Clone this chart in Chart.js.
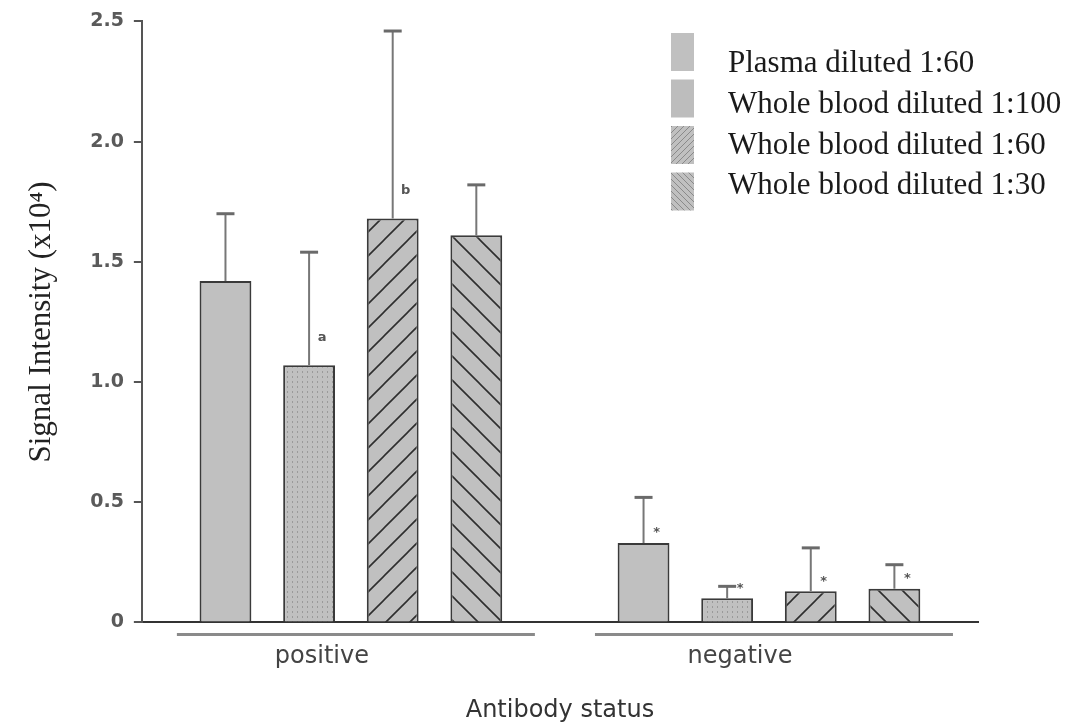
<!DOCTYPE html>
<html>
<head>
<meta charset="utf-8">
<title>Signal intensity by antibody status</title>
<script src="https://cdn.jsdelivr.net/npm/chart.js@4.4.1/dist/chart.umd.min.js"></script>
<style>
  html, body { margin: 0; padding: 0; background: #fff; }
  #wrap { width: 1068px; height: 726px; }
</style>
</head>
<body>
<div id="wrap"><canvas id="myChart" width="1068" height="726"></canvas></div>
<script>
const groups = ['positive', 'negative'];
const seriesNames = [
  'Plasma diluted 1:60',
  'Whole blood diluted 1:100',
  'Whole blood diluted 1:60',
  'Whole blood diluted 1:30'
];

// means and SD (x10^4)
const plasma60 = [1.42, 0.33];
const blood100 = [1.07, 0.10];
const blood60 = [1.68, 0.13];
const blood30 = [1.61, 0.14];

const plasma60Sd = [0.28, 0.19];
const blood100Sd = [0.47, 0.05];
const blood60Sd = [0.78, 0.18];
const blood30Sd = [0.21, 0.10];

// significance letters over the bars
const plasma60Marks = ['', '*'];
const blood100Marks = ['a', '*'];
const blood60Marks = ['b', '*'];
const blood30Marks = ['', '*'];

const yTicks = ['0', '0.5', '1.0', '1.5', '2.0', '2.5'];

function makePattern(kind, size, ink, lw) {
  const c = document.createElement('canvas');
  c.width = size;
  c.height = size;
  const g = c.getContext('2d');
  g.fillStyle = '#c0c0c0';
  g.fillRect(0, 0, size, size);
  g.strokeStyle = ink;
  g.fillStyle = ink;
  g.lineWidth = lw;
  if (kind === 'dots') {
    g.fillRect(2, 1, 1, 2);
  } else if (kind === 'fwd') {
    g.beginPath();
    g.moveTo(0, size); g.lineTo(size, 0);
    g.moveTo(-size / 2, size / 2); g.lineTo(size / 2, -size / 2);
    g.moveTo(size / 2, size * 1.5); g.lineTo(size * 1.5, size / 2);
    g.stroke();
  } else if (kind === 'back') {
    g.beginPath();
    g.moveTo(0, 0); g.lineTo(size, size);
    g.moveTo(-size / 2, size / 2); g.lineTo(size / 2, size * 1.5);
    g.moveTo(size / 2, -size / 2); g.lineTo(size * 1.5, size / 2);
    g.stroke();
  }
  return g.createPattern(c, 'repeat');
}

const solid = '#c0c0c0';
const dotted = makePattern('dots', 5, '#9a9a9a', 1);
const fwd = makePattern('fwd', 24, '#2e2e2e', 1.6);
const back = makePattern('back', 24, '#2e2e2e', 1.6);

const data = {
  labels: groups,
  datasets: [
    { label: seriesNames[0], data: plasma60, sd: plasma60Sd, marks: plasma60Marks,
      backgroundColor: solid, swatch: solid },
    { label: seriesNames[1], data: blood100, sd: blood100Sd, marks: blood100Marks,
      backgroundColor: dotted, swatch: '#bdbdbd' },
    { label: seriesNames[2], data: blood60, sd: blood60Sd, marks: blood60Marks,
      backgroundColor: fwd, swatch: makePattern('fwd', 6, '#8a8a8a', 1) },
    { label: seriesNames[3], data: blood30, sd: blood30Sd, marks: blood30Marks,
      backgroundColor: back, swatch: makePattern('back', 6, '#8a8a8a', 1) }
  ]
};
data.datasets.forEach(function(ds) {
  ds.borderColor = '#3a3a3a';
  ds.borderWidth = 2;
});

// upward SD whiskers with caps
const errorBars = {
  id: 'errorBars',
  afterDatasetsDraw(chart) {
    const ctx = chart.ctx;
    const y = chart.scales.y;
    ctx.save();
    chart.data.datasets.forEach(function(ds, i) {
      chart.getDatasetMeta(i).data.forEach(function(bar, j) {
        const top = y.getPixelForValue(ds.data[j] + ds.sd[j]);
        ctx.strokeStyle = '#777';
        ctx.lineWidth = 2;
        ctx.beginPath();
        ctx.moveTo(bar.x, bar.y);
        ctx.lineTo(bar.x, top);
        ctx.stroke();
        ctx.lineWidth = 3;
        ctx.strokeStyle = '#6a6a6a';
        ctx.beginPath();
        ctx.moveTo(bar.x - 9, top);
        ctx.lineTo(bar.x + 9, top);
        ctx.stroke();
        const m = ds.marks[j];
        if (m) {
          ctx.fillStyle = '#555';
          ctx.font = 'bold 13px "DejaVu Sans"';
          ctx.textAlign = 'center';
          ctx.textBaseline = 'middle';
          ctx.fillText(m, bar.x + 13, bar.y - (m === '*' ? 10 : 28));
        }
      });
    });
    ctx.restore();
  }
};

// group underlines and the key in the upper right
const extras = {
  id: 'extras',
  afterDraw(chart) {
    const ctx = chart.ctx;
    const x = chart.scales.x;
    const base = chart.chartArea.bottom;
    ctx.save();
    ctx.strokeStyle = '#8a8a8a';
    ctx.lineWidth = 3;
    groups.forEach(function(g, i) {
      const cx = x.getPixelForValue(i);
      ctx.beginPath();
      ctx.moveTo(cx - 174, base + 12);
      ctx.lineTo(cx + 184, base + 12);
      ctx.stroke();
    });

    ctx.font = '31px "Liberation Serif"';
    ctx.textBaseline = 'middle';
    ctx.textAlign = 'left';
    chart.data.datasets.forEach(function(ds, i) {
      ctx.fillStyle = ds.swatch;
      ctx.fillRect(671, 33 + i * 46.5, 23, 38);
      ctx.fillStyle = '#1a1a1a';
      ctx.fillText(ds.label, 728, 64 + i * 40.7);
    });
    ctx.restore();
  }
};

const config = {
  type: 'bar',
  data: data,
  options: {
    responsive: false,
    animation: false,
    layout: { padding: { top: 19, right: 90, bottom: 0, left: 0 } },
    datasets: {
      bar: { categoryPercentage: 0.8, barPercentage: 0.62 }
    },
    plugins: {
      legend: { display: false },
      tooltip: { enabled: false }
    },
    scales: {
      x: {
        grid: { display: false, drawTicks: false },
        border: { display: true, color: '#333', width: 2 },
        ticks: {
          color: '#444',
          font: { family: 'DejaVu Sans', size: 24 },
          padding: 20,
          labelOffset: -29
        },
        title: {
          display: true,
          text: 'Antibody status',
          color: '#333',
          font: { family: 'DejaVu Sans', size: 24 },
          padding: { top: 5, bottom: 1 }
        }
      },
      y: {
        min: 0,
        max: 2.5,
        grid: { drawOnChartArea: false, tickLength: 8, color: '#555', lineWidth: 2 },
        border: { display: true, color: '#555', width: 2 },
        ticks: {
          stepSize: 0.5,
          color: '#5a5a5a',
          font: { family: 'DejaVu Sans', size: 19, weight: 'bold' },
          padding: 10,
          callback: function(v, i) { return yTicks[i]; }
        },
        title: {
          display: true,
          text: 'Signal Intensity (x10\u2074)',
          color: '#222',
          font: { family: 'Liberation Serif', size: 31 },
          padding: { top: 23, bottom: 20 }
        }
      }
    }
  },
  plugins: [errorBars, extras]
};

const myChart = new Chart(document.getElementById('myChart'), config);
</script>
</body>
</html>
